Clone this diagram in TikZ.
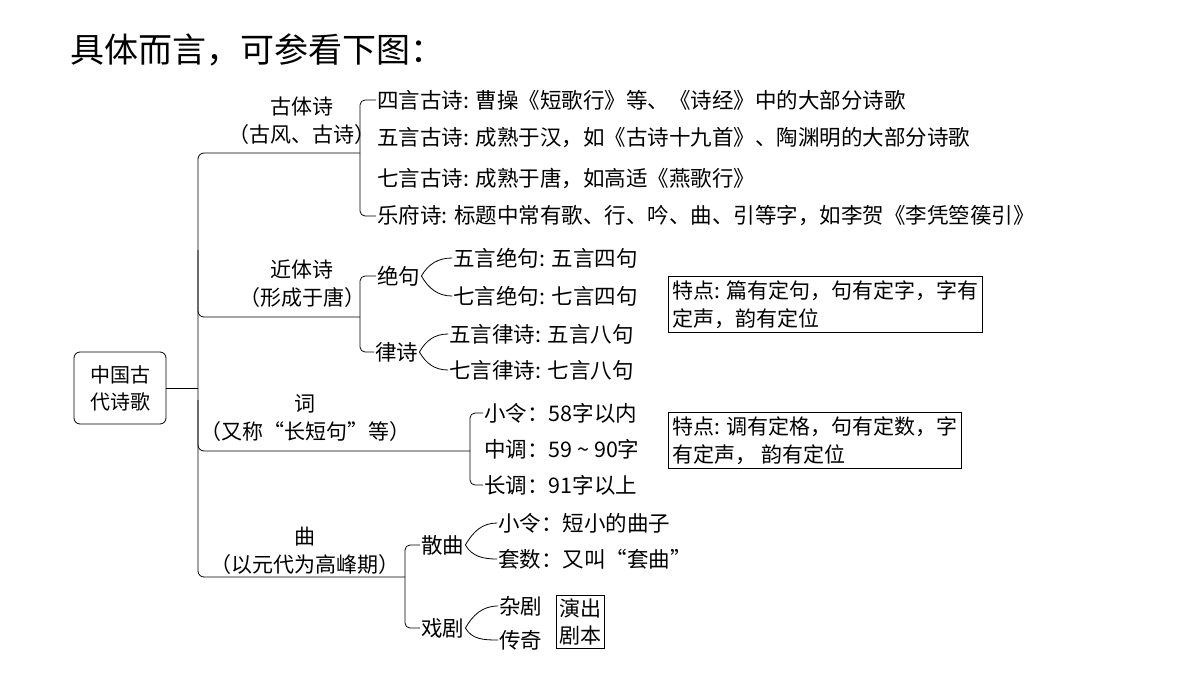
\documentclass[tikz,border=0pt]{standalone}
\usepackage{fontspec}
\setmainfont{Noto Sans CJK SC}
\usetikzlibrary{positioning}
\tikzset{
  item/.style={anchor=west,inner sep=1pt,font=\fontsize{21.5}{24}\selectfont},
  head/.style={align=center,inner sep=1pt,font=\fontsize{21}{28}\selectfont},
  notebox/.style={draw,thick,anchor=north west,align=left,inner sep=4pt,font=\fontsize{21}{28}\selectfont},
  brace/.style={thick,line cap=round},
  branch/.style={thick,rounded corners=6pt},
}
\newcommand\wedgebrace[3]{% from (#1) to (#2), (#3)
  \draw[brace] (#2.west) to[out=180,in=60] (#1.east) to[out=-60,in=180] (#3.west);}
\begin{document}
\begin{tikzpicture}[x=1pt,y=-1pt]
  \useasboundingbox (0,0) rectangle (1200,675);
  \node[anchor=west,inner sep=0pt,font=\fontsize{34}{36}\selectfont] (title) at (70,50) {具体而言，可参看下图：};

  % root
  \node[draw,thick,rounded corners=6pt,align=center,minimum width=92pt,minimum height=72pt,
        font=\fontsize{20}{27}\selectfont] (root) at (120,388) {中国古\\代诗歌};
  \coordinate (trunk) at (198,388);

  % first level
  \node[head] (gu) at (302,121) {古体诗\\（古风、古诗）};
  \node[head] (jin) at (302,284) {近体诗\\（形成于唐）};
  \node[head] (ci) at (305,418) {词\\（又称“长短句”等）};
  \node[head] (qu) at (305,551) {曲\\（以元代为高峰期）};

  \coordinate (b1) at (360,153);
  \coordinate (b2) at (360,317);
  \coordinate (b3) at (470,451);
  \coordinate (b4) at (405,577);

  \draw[branch] (b1) -| (trunk) |- (b4);
  \draw[branch] (198,250) |- (b2);
  \draw[branch] (198,400) |- (b3);
  \draw[thick] (root.east) -- (trunk);

  % gutishi
  \node[item] (g1) at (376,100) {四言古诗: 曹操《短歌行》等、《诗经》中的大部分诗歌};
  \node[item] (g2) at (376,138) {五言古诗: 成熟于汉，如《古诗十九首》、陶渊明的大部分诗歌};
  \node[item] (g3) at (376,178) {七言古诗: 成熟于唐，如高适《燕歌行》};
  \node[item] (g4) at (376,216) {乐府诗: 标题中常有歌、行、吟、曲、引等字，如李贺《李凭箜篌引》};
  \draw[branch,rounded corners=5pt] (g1.west) -| (b1) |- (g4.west);

  % jintishi
  \node[item] (jue) at (376,276) {绝句};
  \node[item] (lv) at (374,352) {律诗};
  \draw[branch,rounded corners=5pt] (jue.west) -| (b2) |- (lv.west);
  \node[item] (j1) at (452,258) {五言绝句: 五言四句};
  \node[item] (j2) at (452,296) {七言绝句: 七言四句};
  \node[item] (l1) at (448,334) {五言律诗: 五言八句};
  \node[item] (l2) at (448,370) {七言律诗: 七言八句};
  \wedgebrace{jue}{j1}{j2}
  \wedgebrace{lv}{l1}{l2}
  \node[notebox] (note1) at (668,276) {特点: 篇有定句，句有定字，字有\\定声，韵有定位};

  % ci
  \node[item] (c1) at (483,413) {小令：58字以内};
  \node[item] (c2) at (483,449) {中调：59 \textasciitilde{} 90字};
  \node[item] (c3) at (483,485) {长调：91字以上};
  \draw[branch,rounded corners=5pt] (c1.west) -| (b3) |- (c3.west);
  \node[notebox] (note2) at (668,412) {特点: 调有定格，句有定数，字\\有定声， 韵有定位};

  % qu
  \node[item] (san) at (420,545) {散曲};
  \node[item] (xi) at (420,628) {戏剧};
  \draw[branch,rounded corners=5pt] (san.west) -| (b4) |- (xi.west);
  \node[item] (s1) at (497,523) {小令：短小的曲子};
  \node[item] (s2) at (497,559) {套数：又叫“套曲”};
  \node[item] (x1) at (498,606) {杂剧};
  \node[item] (x2) at (498,640) {传奇};
  \wedgebrace{san}{s1}{s2}
  \wedgebrace{xi}{x1}{x2}
  \node[draw,thick,align=center,inner sep=3pt,font=\fontsize{21}{27}\selectfont] (yan) at (580,622) {演出\\剧本};
\end{tikzpicture}
\end{document}
